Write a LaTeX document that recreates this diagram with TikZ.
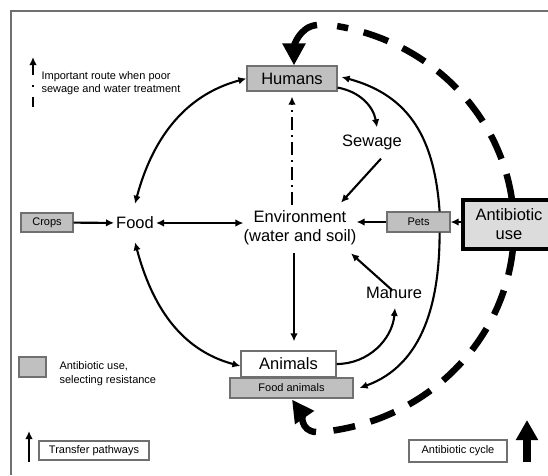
\documentclass[tikz,border=0pt]{standalone}
\usepackage{fontspec}
\setmainfont{Liberation Sans}
\usetikzlibrary{arrows.meta}
\definecolor{boxgray}{HTML}{C0C0C0}
\definecolor{usegray}{HTML}{DCDCDC}
\definecolor{edgegray}{HTML}{707070}

\begin{document}
\begin{tikzpicture}[x=1pt,y=1pt,
	big/.style={font=\fontsize{16.5}{19}\selectfont, inner sep=2pt},
	small/.style={font=\fontsize{11}{12.5}\selectfont},
	box/.style={small, draw=edgegray, line width=1.2pt, fill=boxgray, inner sep=0pt},
	arr/.style={line width=2.1pt, -{Latex[length=8pt,width=7.5pt]}},
	twoarr/.style={arr, {Latex[length=8pt,width=7.5pt]}-{Latex[length=8pt,width=7.5pt]}},
	ring/.style={line width=6.5pt, dash pattern=on 26pt off 16pt},
	ringtip/.style={line width=6.5pt, -{Triangle[length=22pt,width=22pt]}}]
\useasboundingbox (0,0) rectangle (548,-475);
\clip (0,0) rectangle (548,-475);
\draw[edgegray, line width=1.5pt] (11,-475) -- (11,-11) -- (548,-11);

% the cycle
\node[box, minimum width=90, minimum height=25, font=\fontsize{16.5}{19}\selectfont] (humans) at (292,-78.5) {Humans};
\node[big] (sewage) at (372,-142) {Sewage};
\node[big, align=center, inner sep=0pt] (env) at (300,-228) {Environment\\(water and soil)};
\node[big, inner ysep=13pt] (food) at (135,-223) {Food};
\node[box, minimum width=52, minimum height=19] (crops) at (47,-222.5) {Crops};
\node[box, minimum width=63, minimum height=20] (pets) at (418.5,-222) {Pets};
\node[box, fill=usegray, draw=black, line width=3.5pt, minimum width=92, minimum height=49,
	align=center, font=\fontsize{16.5}{19}\selectfont] (use) at (509,-224.5) {Antibiotic\\use};
\node[big] (manure) at (394,-293) {Manure};
\node[box, fill=white, minimum width=95, minimum height=26, font=\fontsize{16.5}{19}\selectfont] (animals) at (288.5,-364) {Animals};
\node[box, minimum width=123, minimum height=20] (foodanimals) at (291.5,-388) {Food animals};

\draw[arr] (crops) -- (food);
\draw[twoarr] (food) -- (food -| env.west);
\draw[arr] (pets) -- (pets -| env.east);
\draw[arr] (use.west |- pets) -- (pets.east);
\draw[arr] ([shift={(9,-7)}]sewage.south) -- ([shift={(41,8)}]env.north);
\draw[arr] ([shift={(-2,-5)}]manure.north) -- ([shift={(51,-8)}]env.south);
\draw[arr] ([shift={(-6,-8)}]env.south) -- ([shift={(5.5,9)}]animals.north);
\draw[arr, dash pattern=on 13pt off 5pt on 2pt off 5pt] ([shift={(-8,6)}]env.north) -- ([yshift=-5]humans.south);
\draw[twoarr] (food.north) to[out=75,in=195] (humans.west);
\draw[twoarr] (food.south) to[out=-75,in=165] ([yshift=-2]animals.west);
\draw[arr] ([yshift=4]humans.south east) to[out=-10,in=100] ([shift={(5,5)}]sewage.north);
\draw[arr] ([xshift=-11]pets.north east) to[out=94,in=-15,looseness=1.1] ([shift={(4,1.5)}]humans.east);
\draw[arr] ([xshift=-11]pets.south east) to[out=-90,in=20] ([xshift=6]foodanimals.east);
\draw[arr] (animals.east) to[out=0,in=-95] ([shift={(1,-7)}]manure.south);

% antibiotic cycle ring
\coordinate (ringc) at (300,-228);
\coordinate (toptail) at (317,-25);
\coordinate (bottail) at (316,-432);
\draw[ring] (ringc) ++(8:214 and 205) arc[start angle=8, end angle=80, x radius=214, y radius=205];
\draw[ring] (ringc) ++(-6:214 and 205) arc[start angle=-6, end angle=-81, x radius=214, y radius=205];
\draw[ringtip] (toptail) to[out=185,in=90] ([xshift=2]humans.north);
\draw[ringtip] (bottail) to[out=178,in=-55] ([xshift=0.5,yshift=-1]foodanimals.south);

% key
\coordinate (routefoot) at (33,-107);
\coordinate (routehead) at (33,-57);
\draw[arr, line width=2.4pt, dash pattern=on 10pt off 10pt on 2.5pt off 10pt on 60pt] (routefoot) -- (routehead);
\node[small, anchor=west, align=left] (routetext) at (38,-83) {Important route when poor\\sewage and water treatment};
\node[box, minimum width=27, minimum height=20] (usekey) at (32.5,-367) {};
\node[small, anchor=west, align=left, font=\fontsize{11}{14}\selectfont] (usetext) at (56,-374) {Antibiotic use,\\selecting resistance};
\coordinate (transferfoot) at (29,-462);
\coordinate (transferhead) at (29,-431);
\draw[arr, line width=2.4pt] (transferfoot) -- (transferhead);
\node[box, fill=white, minimum width=110, minimum height=19] (transferkey) at (94,-450.5) {Transfer pathways};
\node[box, fill=white, minimum width=98, minimum height=22] (cyclekey) at (458,-451) {Antibiotic cycle};
\coordinate (cyclefoot) at (527,-462);
\coordinate (cyclehead) at (527,-420);
\draw[line width=8pt, -{Triangle[length=20pt,width=21pt]}] (cyclefoot) -- (cyclehead);
\end{tikzpicture}
\end{document}
